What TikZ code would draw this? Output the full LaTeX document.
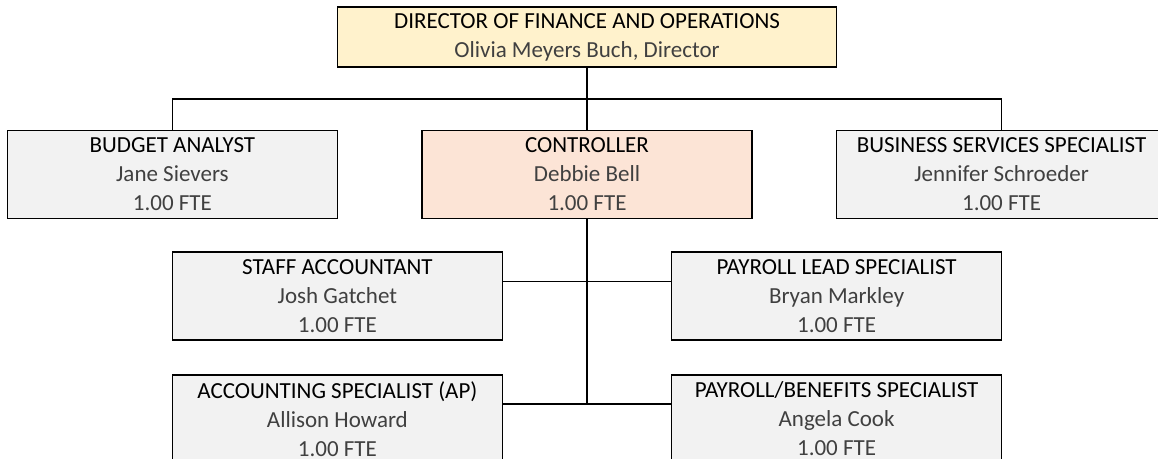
\documentclass[tikz,border=0pt]{standalone}
\usepackage{fontspec}
\setmainfont{Carlito}
\usepackage{xcolor}
\usepackage{tikz}
\usetikzlibrary{positioning,calc}

\definecolor{boxgray}{HTML}{F2F2F2}
\definecolor{headcream}{HTML}{FFF2CC}
\definecolor{ctrlpeach}{HTML}{FCE4D6}
\definecolor{namegray}{HTML}{404040}

\newcommand{\person}[2]{#1\\\textcolor{namegray}{#2}}
\newcommand{\staffer}[3]{#1\\\textcolor{namegray}{#2}\\\textcolor{namegray}{#3}}

\begin{document}
\begin{tikzpicture}[
    x=1pt, y=1pt,
    box/.style={rectangle, draw, line width=1.6pt, fill=boxgray, minimum width=330pt, minimum height=88pt, inner sep=0pt, align=center, font=\fontsize{23}{29}\selectfont},
    lowbox/.style={box, minimum height=88pt},
    link/.style={line width=1.6pt}
]
\useasboundingbox (0,0) rectangle (1158,-458);
\clip (0,0) rectangle (1158,-458);

\node[box, fill=headcream, minimum width=499pt, minimum height=60pt] (dir) at (587,-37) {\person{DIRECTOR OF FINANCE AND OPERATIONS}{Olivia Meyers Buch, Director}};
\node[box, fill=ctrlpeach, below=62pt of dir] (ctrl) {\staffer{CONTROLLER}{Debbie Bell}{1.00 FTE}};
\node[box, left=83pt of ctrl] (budget) {\staffer{BUDGET ANALYST}{Jane Sievers}{1.00 FTE}};
\node[box, right=83pt of ctrl] (bss) {\staffer{BUSINESS SERVICES SPECIALIST}{Jennifer Schroeder}{1.00 FTE}};
\node[lowbox, below=32pt of budget, xshift=165pt] (staff) {\staffer{STAFF ACCOUNTANT}{Josh Gatchet}{1.00 FTE}};
\node[lowbox, below=32pt of bss, xshift=-165pt] (lead) {\staffer{PAYROLL LEAD SPECIALIST}{Bryan Markley}{1.00 FTE}};
\node[lowbox, below=33pt of staff] (acct) {\staffer{ACCOUNTING SPECIALIST (AP)}{Allison Howard}{1.00 FTE}};
\node[lowbox, below=33pt of lead] (benef) {\staffer{PAYROLL/BENEFITS SPECIALIST}{Angela Cook}{1.00 FTE}};

\coordinate (bar) at ($(dir.south)+(0,-31)$);
\coordinate (staffjoin) at ($(staff.north east)+(0,-30)$);
\coordinate (acctjoin) at ($(acct.north east)+(0,-30)$);

\draw[link] (dir) -- (ctrl);
\draw[link] (budget.north) |- (bar) -| (bss.north);
\draw[link] (ctrl.south) -- (ctrl.south |- acctjoin);
\draw[link] (staffjoin) -- (lead.west |- staffjoin);
\draw[link] (acctjoin) -- (benef.west |- acctjoin);
\end{tikzpicture}
\end{document}
